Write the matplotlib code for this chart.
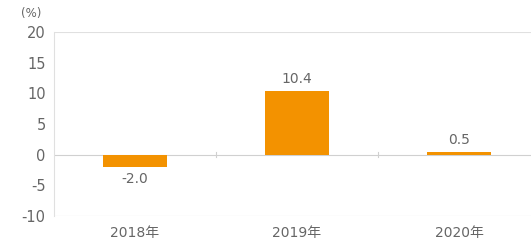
import matplotlib
matplotlib.use("Agg")
import matplotlib.pyplot as plt
import numpy as np

plt.rcParams['font.family'] = ['DejaVu Sans', 'Noto Sans CJK JP']

categories = ["2018年", "2019年", "2020年"]
values = [-2.0, 10.4, 0.5]
value_labels = ["-2.0", "10.4", "0.5"]
yticks = [-10, -5, 0, 5, 10, 15, 20]

fig = plt.figure(figsize=(5.31, 2.46), dpi=100)
ax = fig.add_axes([54/531, 1-216/246, 486/531, (216-32)/246])

x = np.arange(len(categories))
orange = "#F39200"
text_c = "#666666"
ax.bar(x, values, width=0.4, color=orange, zorder=3)

ax.set_xlim(-0.5, len(categories) - 0.5)
ax.set_ylim(-10, 20)
ax.set_yticks(yticks)
ax.set_yticklabels([str(t) for t in yticks], color=text_c, fontsize=10.5)
ax.set_xticks(x)
ax.set_xticklabels(categories, color=text_c, fontsize=10)
ax.tick_params(axis='both', length=0, pad=6)
ax.tick_params(axis='x', pad=7)

for s in ['top', 'right', 'bottom']:
    ax.spines[s].set_visible(False)
ax.spines['left'].set_color("#e0e0e0")
ax.spines['left'].set_linewidth(0.8)

ax.axhline(20, color="#e0e0e0", lw=0.8, zorder=1)
ax.axhline(0, color="#d0d0d0", lw=0.8, zorder=2)
ax.axhline(-10, color="#d0d0d0", lw=0.8, zorder=1)
for b in [0.5, 1.5]:
    ax.plot([b, b], [-0.4, 0.4], color="#d0d0d0", lw=0.8, zorder=2)

for xi, v, lab in zip(x, values, value_labels):
    if v >= 0:
        ax.text(xi, v + 0.8, lab, ha='center', va='bottom', color=text_c, fontsize=10)
    else:
        ax.text(xi, v - 0.8, lab, ha='center', va='top', color=text_c, fontsize=10)

fig.text(31/531, 1-14/246, "(%)", ha='center', va='center', color=text_c, fontsize=8.5)

fig.savefig("out.png", dpi=100)
